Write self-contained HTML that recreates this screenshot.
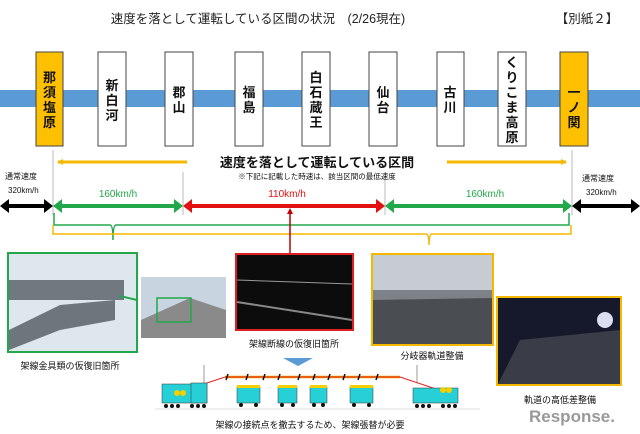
<!DOCTYPE html>
<html><head><meta charset="utf-8"><style>
body{margin:0;background:#fff}
svg{display:block}
text{font-family:"Liberation Sans","Noto Sans CJK JP",sans-serif}
</style></head><body>
<svg width="640" height="434" viewBox="0 0 640 434" xmlns="http://www.w3.org/2000/svg">
<defs>
<marker id="ob" markerWidth="6" markerHeight="6" refX="5" refY="3" orient="auto" markerUnits="userSpaceOnUse"><path d="M0,0L6,3L0,6z" fill="#f5b800"/></marker>
</defs>
<text x="258" y="23" font-size="12.5" text-anchor="middle" fill="#222">速度を落として運転している区間の状況　(2/26現在)</text>
<text x="587" y="23" font-size="12.5" text-anchor="middle" fill="#222">【別紙２】</text>
<rect x="0" y="90" width="640" height="17" fill="#5b9bd5"/>
<g stroke="#444" stroke-width="1">
<rect x="36" y="52" width="27" height="94" fill="#ffc000"/>
<rect x="98" y="52" width="28" height="94" fill="#fff"/>
<rect x="165" y="52" width="28" height="94" fill="#fff"/>
<rect x="235" y="52" width="28" height="94" fill="#fff"/>
<rect x="302" y="52" width="28" height="94" fill="#fff"/>
<rect x="369" y="52" width="28" height="94" fill="#fff"/>
<rect x="437" y="52" width="27" height="94" fill="#fff"/>
<rect x="498" y="52" width="28" height="94" fill="#fff"/>
<rect x="560" y="52" width="28" height="94" fill="#ffc000"/>
</g>
<g font-size="13" text-anchor="middle" fill="#111" font-weight="bold">
<text x="49.5" y="82">那</text><text x="49.5" y="97">須</text><text x="49.5" y="112">塩</text><text x="49.5" y="127">原</text>
<text x="112" y="90">新</text><text x="112" y="105">白</text><text x="112" y="120">河</text>
<text x="179" y="97">郡</text><text x="179" y="112">山</text>
<text x="249" y="97">福</text><text x="249" y="112">島</text>
<text x="316" y="82">白</text><text x="316" y="97">石</text><text x="316" y="112">蔵</text><text x="316" y="127">王</text>
<text x="383" y="97">仙</text><text x="383" y="112">台</text>
<text x="450" y="97">古</text><text x="450" y="112">川</text>
<text x="512" y="67">く</text><text x="512" y="82">り</text><text x="512" y="97">こ</text><text x="512" y="112">ま</text><text x="512" y="127">高</text><text x="512" y="142">原</text>
<text x="574" y="97">一</text><text x="574" y="112">ノ</text><text x="574" y="127">関</text>
</g>
<g stroke="#bbb" stroke-width="1">
<line x1="53" y1="150" x2="53" y2="215"/><line x1="183" y1="172" x2="183" y2="215"/>
<line x1="385" y1="172" x2="385" y2="215"/><line x1="572" y1="150" x2="572" y2="215"/>
</g>
<line x1="187" y1="162" x2="58" y2="162" stroke="#f5b800" stroke-width="3" marker-end="url(#ob)"/>
<line x1="447" y1="162" x2="566" y2="162" stroke="#f5b800" stroke-width="3" marker-end="url(#ob)"/>
<text x="317" y="167" font-size="13" text-anchor="middle" fill="#111" font-weight="bold">速度を落として運転している区間</text>
<text x="317" y="179" font-size="7.5" text-anchor="middle" fill="#111">※下記に記載した時速は、該当区間の最低速度</text>
<g font-size="8" fill="#111">
<text x="5" y="179">通常速度</text><text x="8" y="193">320km/h</text>
<text x="582" y="181">通常速度</text><text x="586" y="195">320km/h</text>
</g>
<text x="118" y="197" font-size="10" text-anchor="middle" fill="#22a84a">160km/h</text>
<text x="287" y="197" font-size="10" text-anchor="middle" fill="#e21010">110km/h</text>
<text x="485" y="197" font-size="10" text-anchor="middle" fill="#22a84a">160km/h</text>
<g>
<rect x="6" y="204" width="41" height="4" fill="#000"/><path d="M0,206L9,199V213z M53,206L44,199V213z" fill="#000"/>
<rect x="59" y="204" width="118" height="4" fill="#22a84a"/><path d="M53,206L62,199V213z M183,206L174,199V213z" fill="#22a84a"/>
<rect x="189" y="204" width="190" height="4" fill="#e21010"/><path d="M183,206L192,199V213z M385,206L376,199V213z" fill="#e21010"/>
<rect x="391" y="204" width="175" height="4" fill="#22a84a"/><path d="M385,206L394,199V213z M572,206L563,199V213z" fill="#22a84a"/>
<rect x="578" y="204" width="56" height="4" fill="#000"/><path d="M572,206L581,199V213z M640,206L631,199V213z" fill="#000"/>
</g>
<path d="M54,213 V225 H110 Q113,225 113,240 Q113,225 116,225 H569 V213" fill="none" stroke="#22a84a" stroke-width="1.5"/>
<path d="M53,225 V234 H426 Q429,234 429,245 Q429,234 432,234 H571 V225" fill="none" stroke="#f5b800" stroke-width="1.5"/>
<line x1="290" y1="210" x2="290" y2="253" stroke="#c00000" stroke-width="1.5"/>
<path d="M290,208 L287,214 H293z" fill="#c00000"/>
<rect x="141" y="277" width="85" height="61" fill="#c8d4df"/>
<path d="M141,320 L190,298 L226,310 V338 H141z" fill="#8a8a8a"/>
<rect x="157" y="298" width="34" height="24" fill="none" stroke="#22a84a" stroke-width="1.5"/>
<rect x="8" y="253" width="129" height="99" fill="#dfe7ee" stroke="#22a84a" stroke-width="2"/>
<rect x="9" y="280" width="115" height="20" fill="#707880"/>
<path d="M9,330 L60,305 L115,300 L115,320 L60,330 L9,350z" fill="#6d757d"/>
<line x1="137" y1="300" x2="120" y2="296" stroke="#22a84a" stroke-width="2"/>
<rect x="236" y="254" width="117" height="76" fill="#0c0c0c" stroke="#e02020" stroke-width="2"/>
<line x1="237" y1="280" x2="352" y2="284" stroke="#999" stroke-width="1"/>
<line x1="237" y1="302" x2="352" y2="320" stroke="#888" stroke-width="2"/>
<rect x="372" y="254" width="121" height="91" fill="#7d8288" stroke="#f5b800" stroke-width="2"/>
<rect x="373" y="255" width="119" height="35" fill="#c7ccd2"/>
<path d="M373,300 L492,298 V344 H373z" fill="#4a4d52"/>
<rect x="497" y="297" width="124" height="88" fill="#15192b" stroke="#f5b800" stroke-width="2"/>
<path d="M520,340 L620,330 V384 H498z" fill="#3a3d48"/>
<circle cx="605" cy="320" r="8" fill="#d9def2"/>
<g font-size="9" fill="#111" text-anchor="middle">
<text x="70" y="369">架線金具類の仮復旧箇所</text>
<text x="294" y="347">架線断線の仮復旧箇所</text>
<text x="432" y="359">分岐器軌道整備</text>
<text x="560" y="403">軌道の高低差整備</text>
<text x="310" y="428">架線の接続点を撤去するため、架線張替が必要</text>
</g>
<path d="M283,358 H313 L298,366z" fill="#5b9bd5"/>
<g stroke="#999"><line x1="204" y1="365" x2="204" y2="383"/><line x1="417" y1="365" x2="417" y2="383"/></g>
<line x1="225" y1="377" x2="400" y2="377" stroke="#f0a000" stroke-width="2.5"/>
<line x1="225" y1="377" x2="400" y2="377" stroke="#e02020" stroke-width="1"/>
<path d="M225,377 L180,392 M400,377 L445,392" stroke="#e02020" stroke-width="1"/>
<g stroke="#111" stroke-width="1.5">
<line x1="228" y1="374" x2="226" y2="380"/><line x1="248" y1="374" x2="246" y2="380"/><line x1="265" y1="374" x2="263" y2="380"/><line x1="280" y1="374" x2="278" y2="380"/><line x1="300" y1="374" x2="298" y2="380"/><line x1="315" y1="374" x2="313" y2="380"/><line x1="330" y1="374" x2="328" y2="380"/><line x1="345" y1="374" x2="343" y2="380"/><line x1="360" y1="374" x2="358" y2="380"/><line x1="378" y1="374" x2="376" y2="380"/></g>
<g fill="#26d0d6" stroke="#333" stroke-width="0.5">
<rect x="162" y="384" width="45" height="19"/><rect x="191" y="383" width="16" height="20"/>
<rect x="237" y="387" width="23" height="16"/><rect x="278" y="387" width="19" height="16"/>
<rect x="310" y="387" width="17" height="16"/><rect x="350" y="387" width="23" height="16"/>
<rect x="413" y="388" width="45" height="15"/>
</g>
<g fill="#f5d000"><rect x="237" y="385" width="23" height="3"/><rect x="278" y="385" width="19" height="3"/><rect x="310" y="385" width="17" height="3"/><rect x="350" y="385" width="23" height="3"/>
<circle cx="177" cy="393" r="3"/><circle cx="183" cy="393" r="3"/><circle cx="443" cy="390" r="3"/><circle cx="449" cy="390" r="3"/></g>
<g fill="#111">
<circle cx="166" cy="406" r="2"/><circle cx="172" cy="406" r="2"/><circle cx="178" cy="406" r="2"/><circle cx="192" cy="406" r="2"/><circle cx="198" cy="406" r="2"/><circle cx="204" cy="406" r="2"/>
<circle cx="241" cy="405" r="2"/><circle cx="256" cy="405" r="2"/><circle cx="282" cy="405" r="2"/><circle cx="293" cy="405" r="2"/><circle cx="314" cy="405" r="2"/><circle cx="323" cy="405" r="2"/><circle cx="354" cy="405" r="2"/><circle cx="369" cy="405" r="2"/>
<circle cx="417" cy="406" r="2"/><circle cx="423" cy="406" r="2"/><circle cx="429" cy="406" r="2"/><circle cx="443" cy="406" r="2"/><circle cx="449" cy="406" r="2"/><circle cx="455" cy="406" r="2"/>
</g>
<line x1="155" y1="409" x2="480" y2="409" stroke="#ddd"/>
<text x="572" y="422" font-size="17" text-anchor="middle" fill="#999" font-weight="bold">Response.</text>
</svg>
</body></html>
